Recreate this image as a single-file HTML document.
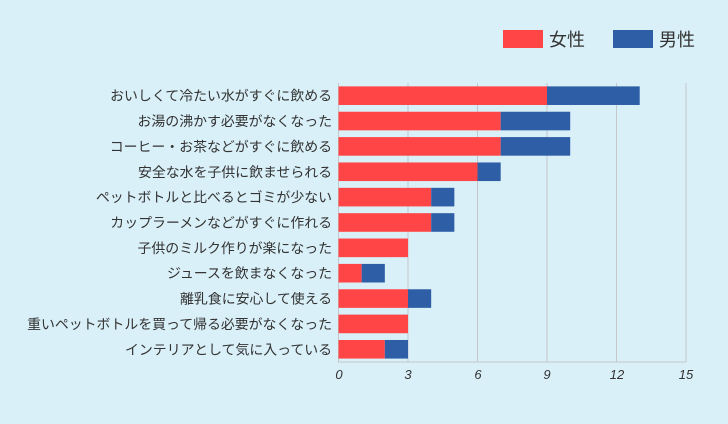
<!DOCTYPE html>
<html><head><meta charset="utf-8"><style>
body{margin:0;background:#d9f0f8;}
svg{display:block}
text{font-family:"Liberation Sans","Noto Sans CJK JP",sans-serif;fill:#333}
</style></head><body>
<svg width="728" height="424" viewBox="0 0 728 424">
<rect width="728" height="424" fill="#d9f0f8"/>
<rect x="503" y="30" width="40" height="18" fill="#ff4545"/>
<text x="549" y="46" font-size="18">女性</text>
<rect x="613" y="30" width="40" height="18" fill="#2e5ea6"/>
<text x="659" y="46" font-size="18">男性</text>
<g stroke="#c4c8cc" stroke-width="1">
<line x1="338.5" y1="83" x2="338.5" y2="362"/>
<line x1="408" y1="83" x2="408" y2="362"/>
<line x1="477.5" y1="83" x2="477.5" y2="362"/>
<line x1="547" y1="83" x2="547" y2="362"/>
<line x1="616.5" y1="83" x2="616.5" y2="362"/>
<line x1="686" y1="83" x2="686" y2="362"/>
<line x1="338" y1="362" x2="686" y2="362"/>
</g>
<g id="bars"></g>
<g font-size="13" text-anchor="middle" font-style="italic">
<text x="339" y="379">0</text><text x="408" y="379">3</text><text x="478" y="379">6</text><text x="547" y="379">9</text><text x="617" y="379">12</text><text x="686" y="379">15</text>
</g>
<g font-size="13.9" text-anchor="end" id="labels"></g>
</svg>
<script>
const d=[["おいしくて冷たい水がすぐに飲める",9,4],["お湯の沸かす必要がなくなった",7,3],["コーヒー・お茶などがすぐに飲める",7,3],["安全な水を子供に飲ませられる",6,1],["ペットボトルと比べるとゴミが少ない",4,1],["カップラーメンなどがすぐに作れる",4,1],["子供のミルク作りが楽になった",3,0],["ジュースを飲まなくなった",1,1],["離乳食に安心して使える",3,1],["重いペットボトルを買って帰る必要がなくなった",3,0],["インテリアとして気に入っている",2,1]];
const ns="http://www.w3.org/2000/svg",u=23.17,x0=338.5;
const b=document.getElementById("bars"),l=document.getElementById("labels");
d.forEach((r,i)=>{const cy=83+25.36*(i+0.5);
const a=document.createElementNS(ns,"rect");a.setAttribute("x",x0);a.setAttribute("y",cy-9.3);a.setAttribute("width",r[1]*u);a.setAttribute("height",18.6);a.setAttribute("fill","#ff4545");b.appendChild(a);
if(r[2]){const c=document.createElementNS(ns,"rect");c.setAttribute("x",x0+r[1]*u);c.setAttribute("y",cy-9.3);c.setAttribute("width",r[2]*u);c.setAttribute("height",18.6);c.setAttribute("fill","#2e5ea6");b.appendChild(c);}
const t=document.createElementNS(ns,"text");t.setAttribute("x",332);t.setAttribute("y",cy+5);t.textContent=r[0];l.appendChild(t);});
</script>
</body></html>
